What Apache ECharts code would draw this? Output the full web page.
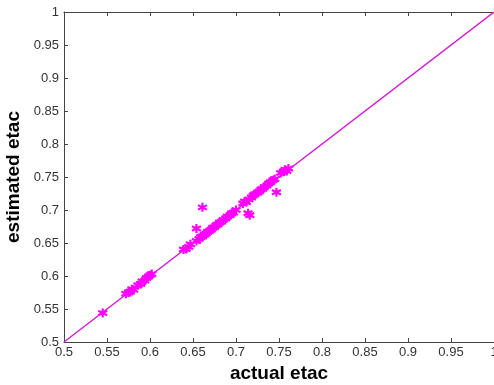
<!DOCTYPE html>
<html><head><meta charset="utf-8">
<script src="https://cdn.jsdelivr.net/npm/echarts@6/dist/echarts.min.js"></script>
<style>html,body{margin:0;padding:0;background:#fff}#c{width:494px;height:385px}</style>
</head><body><div id="c"></div>
<script>
const xTicks = [0.5,0.55,0.6,0.65,0.7,0.75,0.8,0.85,0.9,0.95,1];
const yTicks = [0.5,0.55,0.6,0.65,0.7,0.75,0.8,0.85,0.9,0.95,1];
const actual = [0.545,0.572,0.575,0.577,0.579,0.581,0.586,0.589,0.591,0.594,0.596,0.598,0.600,0.602,
 0.639,0.642,0.645,0.647,0.654,0.657,0.659,0.661,0.663,0.665,0.667,0.669,0.671,0.673,0.675,0.677,
 0.679,0.681,0.683,0.685,0.688,0.690,0.693,0.695,0.697,0.700,0.708,0.710,0.712,0.715,0.718,0.720,
 0.722,0.725,0.727,0.729,0.731,0.733,0.736,0.738,0.740,0.743,0.745,0.752,0.755,0.757,0.759,0.761,
 0.661,0.654,0.714,0.716,0.747];
const estimated = [0.544,0.573,0.575,0.576,0.580,0.579,0.586,0.588,0.592,0.593,0.597,0.599,0.601,0.603,
 0.640,0.641,0.644,0.648,0.653,0.656,0.659,0.660,0.662,0.664,0.667,0.668,0.670,0.673,0.674,0.677,
 0.678,0.681,0.682,0.685,0.687,0.690,0.692,0.695,0.696,0.700,0.710,0.713,0.712,0.716,0.719,0.722,
 0.724,0.726,0.728,0.731,0.732,0.735,0.737,0.740,0.742,0.745,0.747,0.756,0.758,0.761,0.759,0.763,
 0.704,0.672,0.695,0.692,0.727];
const refLine = [[0.5,0.5],[1,1]];
const pts = actual.map((a,i)=>[a,estimated[i]]);
const fmt = v => String(+(+v).toFixed(2));
const axisCol = '#444';
const chart = echarts.init(document.getElementById('c'));
const star = 'path://M0,-10L0,10M-8.66,-5L8.66,5M-8.66,5L8.66,-5';
chart.setOption({
  backgroundColor:'#fff',
  animation:false,
  grid:{left:64,top:12,right:0,bottom:43,outerBoundsMode:'none',containLabel:false},
  xAxis:[{type:'value',min:0.5,max:1,interval:0.05,
    axisLine:{onZero:false,lineStyle:{color:axisCol,width:1}},
    axisTick:{inside:true,length:4,lineStyle:{color:axisCol}},
    splitLine:{show:false},
    axisLabel:{formatter:fmt,color:'#333',fontFamily:'Liberation Sans, Arial',fontSize:13,margin:4},
    name:'actual etac',nameLocation:'middle',nameGap:22,
    nameTextStyle:{fontFamily:'Liberation Sans, Arial',fontWeight:'bold',fontSize:19,color:'#000'}},
   {type:'value',position:'top',min:0.5,max:1,interval:0.05,
    axisLine:{lineStyle:{color:axisCol}},axisTick:{inside:true,length:4,lineStyle:{color:axisCol}},
    axisLabel:{show:false},splitLine:{show:false}}],
  yAxis:[{type:'value',min:0.5,max:1,interval:0.05,
    axisLine:{onZero:false,lineStyle:{color:axisCol,width:1}},
    axisTick:{inside:true,length:4,lineStyle:{color:axisCol}},
    splitLine:{show:false},
    axisLabel:{formatter:fmt,color:'#333',fontFamily:'Liberation Sans, Arial',fontSize:13,margin:5},
    name:'estimated etac',nameLocation:'middle',nameGap:37,
    nameTextStyle:{fontFamily:'Liberation Sans, Arial',fontWeight:'bold',fontSize:19,color:'#000'}}],
  series:[
   {type:'line',data:refLine,symbol:'none',lineStyle:{color:'#d21fd2',width:1.5},z:2},
   {type:'scatter',data:pts,symbol:star,symbolSize:9,
    itemStyle:{color:'rgba(0,0,0,0)',borderColor:'#ff00ff',borderWidth:2.2,opacity:1},z:3}
  ]
});
</script></body></html>
